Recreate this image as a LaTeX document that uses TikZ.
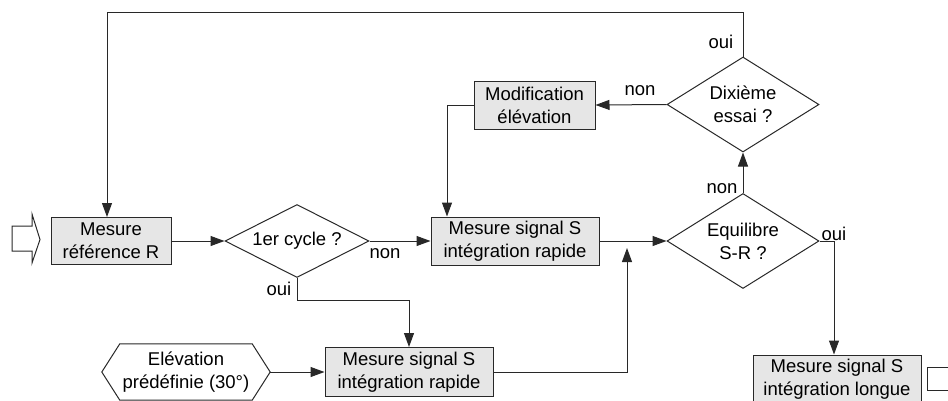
\documentclass[tikz,border=0pt]{standalone}
\usepackage{fontspec}
\setmainfont{Liberation Sans}
\usetikzlibrary{arrows.meta,shapes.geometric}
\definecolor{linec}{RGB}{40,40,40}
\definecolor{boxfill}{RGB}{230,230,230}
\begin{document}
\begin{tikzpicture}[x=1pt,y=-1pt,
  every node/.style={font=\fontsize{18.5}{23}\selectfont, text=black},
  proc/.style={draw=linec, fill=boxfill, line width=1pt, inner sep=0pt,
    minimum width=168pt, minimum height=48pt, align=center},
  dec/.style={draw=linec, diamond, line width=1pt, inner sep=0pt, align=center},
  lbl/.style={inner sep=0pt},
  conn/.style={draw=linec, line width=1pt},
  arr/.style={conn, -{Triangle[length=14pt,width=10pt]}}]
\useasboundingbox (0,0) rectangle (948,400);

% nodes
\node[proc, minimum width=120pt, minimum height=47pt] (ref) at (111,241) {Mesure\\référence R};
\node[dec, minimum width=144pt, minimum height=73pt, aspect=1.97] (c1) at (297,241) {1er cycle ?};
\node[proc] (box2) at (515,241) {Mesure signal S\\intégration rapide};
\node[proc, minimum width=121pt] (mod) at (534.5,105) {Modification\\élévation};
\node[dec, minimum width=152pt, minimum height=95pt, aspect=1.6] (dix) at (743,104.5) {Dixième\\essai ?};
\node[dec, minimum width=152pt, minimum height=95pt, aspect=1.6] (eq) at (743,241) {Equilibre\\S-R ?};
\node[proc, minimum height=49pt] (box3) at (409,372) {Mesure signal S\\intégration rapide};
\node[proc] (box4) at (837,379) {Mesure signal S\\intégration longue};
\node[minimum width=168pt, minimum height=56pt, inner sep=0pt, align=center] (elev) at (186,372) {Elévation\\prédéfinie (30°)};
\draw[conn] (elev.west) -- ([xshift=18pt]elev.north west) -- ([xshift=-18pt]elev.north east)
  -- (elev.east) -- ([xshift=-18pt]elev.south east) -- ([xshift=18pt]elev.south west) -- cycle;

% input and output block arrows
\draw[conn] (12,226) -- (32,226) -- (32,214) -- (40,239.5) -- (32,263) -- (32,251) -- (12,251) -- cycle;
\draw[conn] (960,367) -- (927,367) -- (927,390) -- (960,390);

% helper coordinates
\coordinate (tl) at (107,12.5);
\coordinate (m1) at (447,105);
\coordinate (o1) at (297,300);
\coordinate (mg) at (627,372);
\coordinate (mgt) at (627,248);
\coordinate (j) at (834,241);

% connectors
\draw[arr] (ref.east) -- (c1.west);
\draw[arr] (c1.east) -- (box2.west);
\draw[arr] (c1.south) -- (o1) -| (box3.north);
\draw[arr] (elev.east) -- (box3.west);
\draw[arr] (box3.east) -- (mg) -- (mgt);
\draw[arr] (box2.east) -- (eq.west);
\draw[arr] (eq.north) -- (dix.south);
\draw[arr] (dix.west) -- (mod.east);
\draw[arr] (mod.west) -- (m1) -- (m1 |- box2.north);
\draw[arr] (dix.north) |- (tl) -- (tl |- ref.north);
\draw[arr] (eq.east) -- (j) -- (j |- box4.north);

% labels
\node[lbl] (l1) at (385,254) {non};
\node[lbl] (l2) at (279,289) {oui};
\node[lbl] (l3) at (640,91) {non};
\node[lbl] (l4) at (721,42) {oui};
\node[lbl] (l5) at (722,189) {non};
\node[lbl] (l6) at (834,234) {oui};
\end{tikzpicture}
\end{document}
